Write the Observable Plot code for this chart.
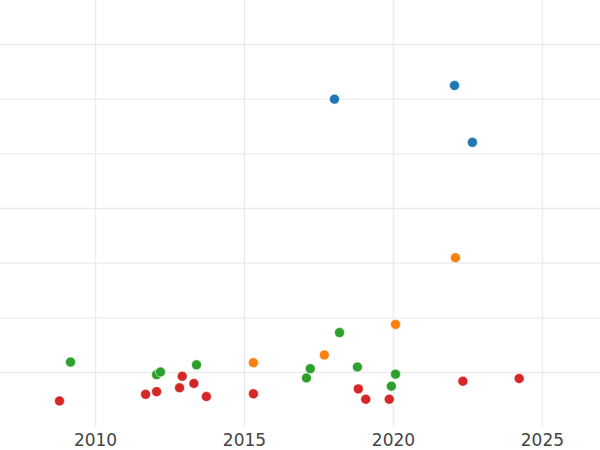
<!DOCTYPE html>
<html><head><meta charset="utf-8">
<script src="https://cdn.jsdelivr.net/npm/d3@7"></script>
<script src="https://cdn.jsdelivr.net/npm/@observablehq/plot@0.6"></script>
<style>html,body{margin:0;padding:0;background:#fff}</style>
</head><body><div id="chart"></div>
<script>
const groups = ["A", "B", "C", "D"];
const colors = ["#1f77b4", "#ff7f0e", "#2ca02c", "#d62728"];

const blueYear = [2018.02, 2022.05, 2022.65];
const blueVal  = [6.00, 6.25, 5.21];

const orangeYear = [2015.30, 2017.68, 2020.07, 2022.08];
const orangeVal  = [1.18, 1.32, 1.88, 3.10];

const greenYear = [2009.16, 2012.05, 2012.18, 2013.39, 2017.08, 2017.21, 2018.19, 2018.79, 2020.07, 2019.93];
const greenVal  = [1.19, 0.96, 1.01, 1.14, 0.90, 1.07, 1.73, 1.10, 0.97, 0.75];

const redYear = [2008.79, 2011.68, 2012.05, 2012.82, 2012.91, 2013.30, 2013.72, 2015.30, 2018.82, 2019.07, 2019.86, 2022.33, 2024.22];
const redVal  = [0.48, 0.60, 0.65, 0.72, 0.93, 0.80, 0.56, 0.61, 0.70, 0.51, 0.51, 0.84, 0.89];

const xTicks = [2010, 2015, 2020, 2025];
const yTicks = [1, 2, 3, 4, 5, 6, 7];

const series = [[blueYear, blueVal], [orangeYear, orangeVal], [greenYear, greenVal], [redYear, redVal]];
const data = [];
series.forEach(([xs, ys], i) => xs.forEach((x, j) => data.push({group: groups[i], year: x, value: ys[j]})));

const chart = Plot.plot({
  width: 600,
  height: 450,
  marginLeft: 0,
  marginRight: 0,
  marginTop: 0,
  marginBottom: 23,
  style: {fontFamily: "DejaVu Sans, sans-serif", background: "#fff"},
  x: {domain: [2006.81, 2026.95], label: null},
  y: {domain: [-0.006, 7.805], axis: null},
  color: {domain: groups, range: colors},
  marks: [
    Plot.gridX(xTicks, {stroke: "#ebebeb", strokeOpacity: 1, strokeWidth: 1.4}),
    Plot.gridY(yTicks, {stroke: "#ebebeb", strokeOpacity: 1, strokeWidth: 1.4}),
    Plot.axisX(xTicks, {tickSize: 0, tickPadding: 6, fontSize: 17, fill: "#444", tickFormat: d => String(d), label: null}),
    Plot.dot(data, {x: "year", y: "value", fill: "group", r: 5, stroke: "white", strokeWidth: 0.6})
  ]
});
document.getElementById("chart").appendChild(chart);
</script>
</body></html>
